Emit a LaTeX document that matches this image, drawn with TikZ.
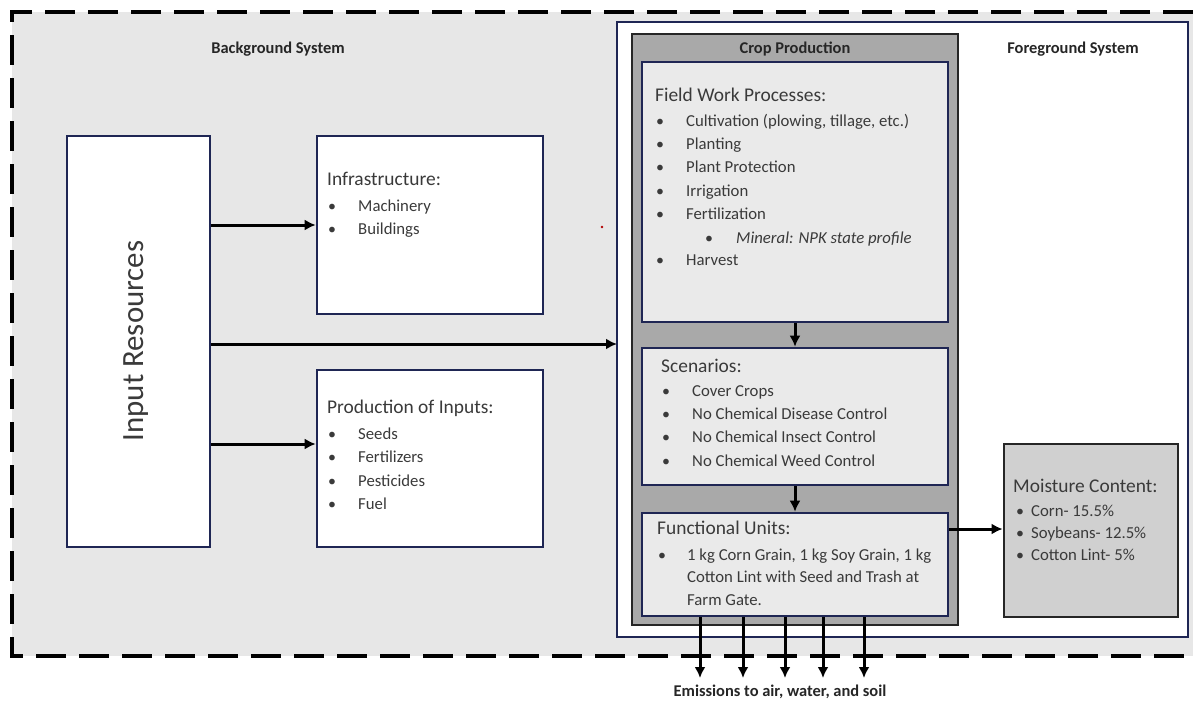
\documentclass[tikz,border=0pt]{standalone}
\usepackage{fontspec}
\setmainfont{Carlito}
\usetikzlibrary{arrows.meta}
\definecolor{bgsys}{HTML}{E7E7E7}
\definecolor{navy}{HTML}{1F2654}
\definecolor{cropfill}{HTML}{A9A9A9}
\definecolor{innerfill}{HTML}{EAEAEA}
\definecolor{moistfill}{HTML}{D0D0D0}
\definecolor{txtc}{HTML}{3A3A3A}
\tikzset{
  x=1bp, y=-1bp,
  navybox/.style={draw=navy, line width=2.6bp},
  blackbox/.style={draw=black!85, line width=2.8bp},
  lbl/.style={font=\fontsize{16.5}{18}\selectfont\bfseries, text=black!85, inner sep=0},
  head/.style={font=\fontsize{19.5}{22}\selectfont, text=txtc, anchor=mid west, inner sep=0},
  itm/.style={font=\fontsize{16.8}{19}\selectfont, text=txtc, anchor=mid west, inner sep=0},
  bul/.style={font=\fontsize{16}{18}\selectfont, text=txtc, anchor=mid west, inner sep=0},
  arr/.style={line width=3bp, -{Latex[length=11bp,width=11bp]}},
}
\begin{document}
\begin{tikzpicture}
\useasboundingbox (0,0) rectangle (1193,701);
% background system
\fill[bgsys] (12,12) rectangle (1193,656);
\draw[line width=4bp, dash pattern=on 30bp off 13bp] (1193,12) -- (12,12) -- (12,656) -- (1193,656);
\node[lbl] (bgl) at (278,49) {Background System};
% foreground system
\draw[navybox, fill=white] (617,22) rectangle (1188,637);
\coordinate (fgW) at (617,344);
\node[lbl] (fgl) at (1073,49) {Foreground System};
% crop production
\draw[blackbox, fill=cropfill] (632,34) rectangle (958,625);
\node[lbl] (cpl) at (795,49) {Crop Production};
% input resources
\node[navybox, fill=white, minimum width=143bp, minimum height=411bp, inner sep=0] (inp) at (138.5,341.5) {};
\node[rotate=90, font=\fontsize{31}{33}\selectfont, text=txtc, inner sep=0] (inpt) at (136,341) {Input Resources};
% infrastructure
\node[navybox, fill=white, minimum width=226bp, minimum height=178bp, inner sep=0] (inf) at (430,225) {};
\node[head] (infh) at (327,183) {Infrastructure:};
\foreach \t [count=\i] in {Machinery, Buildings}{
  \node[bul] (infb\i) at (328,{209+23.5*(\i-1)}) {•};
  \node[itm] (inf\i) at (358,{209+23.5*(\i-1)}) {\t};
}
% production of inputs
\node[navybox, fill=white, minimum width=226bp, minimum height=177bp, inner sep=0] (prod) at (430,458.5) {};
\node[head] (prodh) at (327,411) {Production of Inputs:};
\foreach \t [count=\i] in {Seeds, Fertilizers, Pesticides, Fuel}{
  \node[bul] (prodb\i) at (328,{437+23.4*(\i-1)}) {•};
  \node[itm] (prod\i) at (358,{437+23.4*(\i-1)}) {\t};
}
% field work
\node[navybox, fill=innerfill, minimum width=306bp, minimum height=260bp, inner sep=0] (fw) at (795,192) {};
\node[head] (fwh) at (655,99) {Field Work Processes:};
\foreach \t/\yy [count=\i] in {{Cultivation (plowing, tillage, etc.)}/124, Planting/147, {Plant Protection}/170, Irrigation/194, Fertilization/217, Harvest/263}{
  \node[bul] (fwb\i) at (656,\yy) {•};
  \node[itm] (fw\i) at (686,\yy) {\t};
}
\node[bul] (fwsb) at (705,241) {•};
\node[itm, font=\fontsize{16.8}{19}\selectfont\itshape] (fws) at (736,241) {Mineral: NPK state profile};
% scenarios
\node[navybox, fill=innerfill, minimum width=306bp, minimum height=137bp, inner sep=0] (sc) at (795,416.5) {};
\node[head] (sch) at (661,370) {Scenarios:};
\foreach \t [count=\i] in {Cover Crops, No Chemical Disease Control, No Chemical Insect Control, No Chemical Weed Control}{
  \node[bul] (scb\i) at (662,{394+23.3*(\i-1)}) {•};
  \node[itm] (sc\i) at (692,{394+23.3*(\i-1)}) {\t};
}
% functional units
\node[navybox, fill=innerfill, minimum width=306bp, minimum height=103bp, inner sep=0] (fu) at (795,564.5) {};
\node[head] (fuh) at (657,532) {Functional Units:};
\node[bul] (fub) at (658,558) {•};
\foreach \t/\yy [count=\i] in {{1 kg Corn Grain, 1 kg Soy Grain, 1 kg}/558, {Cotton Lint with Seed and Trash at}/580.5, {Farm Gate.}/603}{
  \node[itm] (fu\i) at (687,\yy) {\t};
}
% moisture content
\node[blackbox, fill=moistfill, minimum width=174bp, minimum height=173bp, inner sep=0] (mc) at (1091,530.5) {};
\node[head] (mch) at (1013,490) {Moisture Content:};
\foreach \t [count=\i] in {Corn- 15.5\%, Soybeans- 12.5\%, Cotton Lint- 5\%}{
  \node[bul] (mcb\i) at (1016,{514+22*(\i-1)}) {•};
  \node[itm] (mc\i) at (1031,{514+22*(\i-1)}) {\t};
}
% emissions label
\node[lbl] (em) at (780,692) {Emissions to air, water, and soil};
% stray red dot
\fill[red!70!black] (602,227) circle (1.3bp);
% arrows
\draw[arr] (inp.east |- 0,225) -- (inf.west |- 0,225);
\draw[arr] (inp.east |- 0,344) -- (fgW);
\draw[arr] (inp.east |- 0,444) -- (prod.west |- 0,444);
\draw[arr] (fw.south) -- (sc.north);
\draw[arr] (sc.south) -- (fu.north);
\draw[arr] (fu.east |- 0,529) -- (mc.west |- 0,529);
\foreach \xx in {700,743,785,823,864}{
  \draw[arr] (fu.south -| \xx,0) -- (\xx,678);
}
\end{tikzpicture}
\end{document}
